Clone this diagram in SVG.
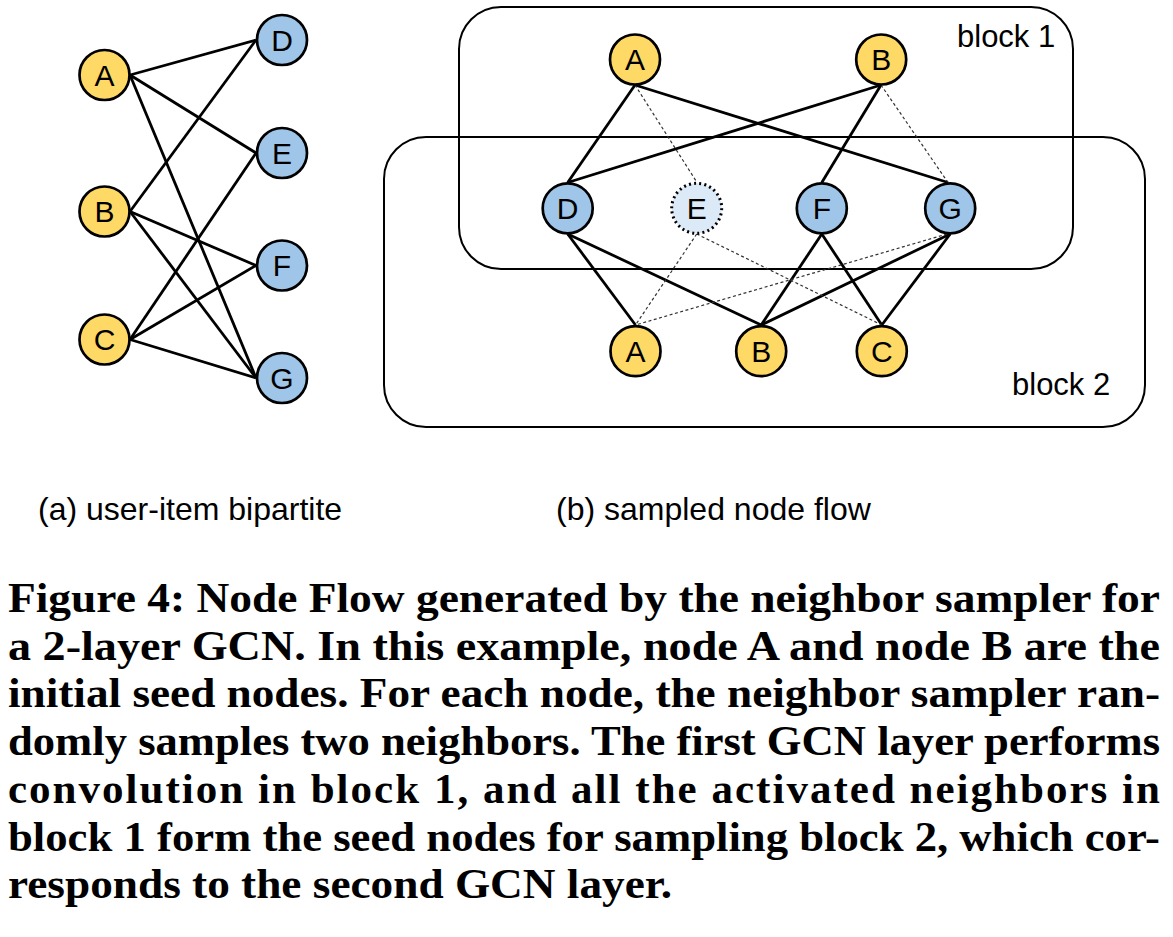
<svg xmlns="http://www.w3.org/2000/svg" width="1173" height="937" viewBox="0 0 1173 937">
<style>
  .bg { fill: #ffffff; }
  .user { fill: #ffd966; stroke: #000; stroke-width: 2.7; }
  .item { fill: #9fc5e8; stroke: #000; stroke-width: 2.7; }
  .ghost { fill: #dce9f7; stroke: #000; stroke-width: 3; stroke-dasharray: 2 3.2; }
  .lbl { font-family: "Liberation Sans", Arial, sans-serif; font-size: 30px; fill: #000; text-anchor: middle; }
  .edge { stroke: #000; stroke-width: 2.8; fill: none; }
  .dot { stroke: #333; stroke-width: 1.2; fill: none; stroke-dasharray: 3 2.5; }
  .block { fill: none; stroke: #000; stroke-width: 2; }
  .sub { font-family: "Liberation Sans", Arial, sans-serif; font-size: 32px; fill: #000; }
  .blk { font-family: "Liberation Sans", Arial, sans-serif; font-size: 31px; fill: #000; }
  .cap { font-family: "Liberation Serif", "Times New Roman", serif; font-weight: bold; font-size: 43px; fill: #000; }
</style>
<rect class="bg" x="0" y="0" width="1173" height="937"/>

<!-- (a) bipartite graph -->
<g id="connectors-a">
  <line class="edge" x1="130" y1="75" x2="256" y2="40"/>
  <line class="edge" x1="130" y1="75" x2="256" y2="153"/>
  <line class="edge" x1="130" y1="75" x2="256" y2="378"/>
  <line class="edge" x1="130" y1="211.5" x2="256" y2="40"/>
  <line class="edge" x1="130" y1="211.5" x2="256" y2="265.5"/>
  <line class="edge" x1="130" y1="211.5" x2="256" y2="378"/>
  <line class="edge" x1="130" y1="339.5" x2="256" y2="153"/>
  <line class="edge" x1="130" y1="339.5" x2="256" y2="265.5"/>
  <line class="edge" x1="130" y1="339.5" x2="256" y2="378"/>
</g>
<g id="a-A"><circle class="user" cx="104.5" cy="75" r="25"/><text class="lbl" x="104.5" y="85.5">A</text></g>
<g id="a-B"><circle class="user" cx="104.5" cy="211.5" r="25"/><text class="lbl" x="104.5" y="222">B</text></g>
<g id="a-C"><circle class="user" cx="104.5" cy="339.5" r="25"/><text class="lbl" x="104.5" y="350">C</text></g>
<g id="a-D"><circle class="item" cx="282" cy="40" r="25"/><text class="lbl" x="282" y="50.5">D</text></g>
<g id="a-E"><circle class="item" cx="282" cy="153" r="25"/><text class="lbl" x="282" y="163.5">E</text></g>
<g id="a-F"><circle class="item" cx="282" cy="265.5" r="25"/><text class="lbl" x="282" y="276">F</text></g>
<g id="a-G"><circle class="item" cx="282" cy="378" r="25"/><text class="lbl" x="282" y="388.5">G</text></g>

<!-- (b) sampled node flow -->
<g id="block1"><rect class="block" x="459" y="7" width="614" height="262" rx="42" ry="42"/><text class="blk" x="957" y="47">block 1</text></g>
<g id="block2"><rect class="block" x="384" y="137" width="761" height="290" rx="42" ry="42"/><text class="blk" x="1012" y="395">block 2</text></g>

<g id="connectors-b">
  <!-- block 1 -->
  <line class="edge" x1="635" y1="85" x2="567.7" y2="182.5"/>
  <line class="edge" x1="635" y1="85" x2="948" y2="182.5"/>
  <line class="edge" x1="881" y1="85" x2="567.7" y2="182.5"/>
  <line class="edge" x1="881" y1="85" x2="821.8" y2="182.5"/>
  <line class="dot" x1="635" y1="85" x2="696.7" y2="182"/>
  <line class="dot" x1="881" y1="85" x2="948" y2="182.5"/>
  <!-- block 2 -->
  <line class="edge" x1="567.7" y1="234" x2="635.5" y2="325"/>
  <line class="edge" x1="567.7" y1="234" x2="761.2" y2="325"/>
  <line class="edge" x1="821.8" y1="234" x2="761.2" y2="325"/>
  <line class="edge" x1="821.8" y1="234" x2="881.8" y2="325"/>
  <line class="edge" x1="950.2" y1="234" x2="761.2" y2="325"/>
  <line class="edge" x1="950.2" y1="234" x2="881.8" y2="325"/>
  <line class="dot" x1="696.7" y1="234" x2="635.5" y2="325"/>
  <line class="dot" x1="696.7" y1="234" x2="881.8" y2="325"/>
  <line class="dot" x1="947" y1="234" x2="635.5" y2="325"/>
</g>

<g id="b-A1"><circle class="user" cx="635" cy="59.5" r="25"/><text class="lbl" x="635" y="70">A</text></g>
<g id="b-B1"><circle class="user" cx="881.2" cy="59.5" r="25"/><text class="lbl" x="881.2" y="70">B</text></g>
<g id="b-D"><circle class="item" cx="567.7" cy="208.3" r="25"/><text class="lbl" x="567.7" y="218.8">D</text></g>
<g id="b-E"><circle class="ghost" cx="696.7" cy="208.3" r="25"/><text class="lbl" x="696.7" y="218.8">E</text></g>
<g id="b-F"><circle class="item" cx="821.8" cy="208.3" r="25"/><text class="lbl" x="821.8" y="218.8">F</text></g>
<g id="b-G"><circle class="item" cx="950.2" cy="208.3" r="25"/><text class="lbl" x="950.2" y="218.8">G</text></g>
<g id="b-A2"><circle class="user" cx="635.5" cy="351.2" r="25"/><text class="lbl" x="635.5" y="361.7">A</text></g>
<g id="b-B2"><circle class="user" cx="761.2" cy="351.2" r="25"/><text class="lbl" x="761.2" y="361.7">B</text></g>
<g id="b-C2"><circle class="user" cx="881.8" cy="351.2" r="25"/><text class="lbl" x="881.8" y="361.7">C</text></g>

<!-- sub captions -->
<text class="sub" x="38" y="520">(a) user-item bipartite</text>
<text class="sub" x="556" y="520">(b) sampled node flow</text>

<!-- figure caption -->
<g id="caption">
  <text class="cap" x="8" y="612" textLength="1152" lengthAdjust="spacingAndGlyphs">Figure 4: Node Flow generated by the neighbor sampler for</text>
  <text class="cap" x="8" y="659.5" textLength="1152" lengthAdjust="spacingAndGlyphs">a 2-layer GCN. In this example, node A and node B are the</text>
  <text class="cap" x="8" y="707" textLength="1152" lengthAdjust="spacingAndGlyphs">initial seed nodes. For each node, the neighbor sampler ran-</text>
  <text class="cap" x="8" y="754.5" textLength="1152" lengthAdjust="spacingAndGlyphs">domly samples two neighbors. The first GCN layer performs</text>
  <text class="cap" x="8" y="802.5" textLength="1152" lengthAdjust="spacing">convolution in block 1, and all the activated neighbors in</text>
  <text class="cap" x="8" y="850.5" textLength="1152" lengthAdjust="spacingAndGlyphs">block 1 form the seed nodes for sampling block 2, which cor-</text>
  <text class="cap" x="8" y="898" textLength="664" lengthAdjust="spacingAndGlyphs">responds to the second GCN layer.</text>
</g>
</svg>
